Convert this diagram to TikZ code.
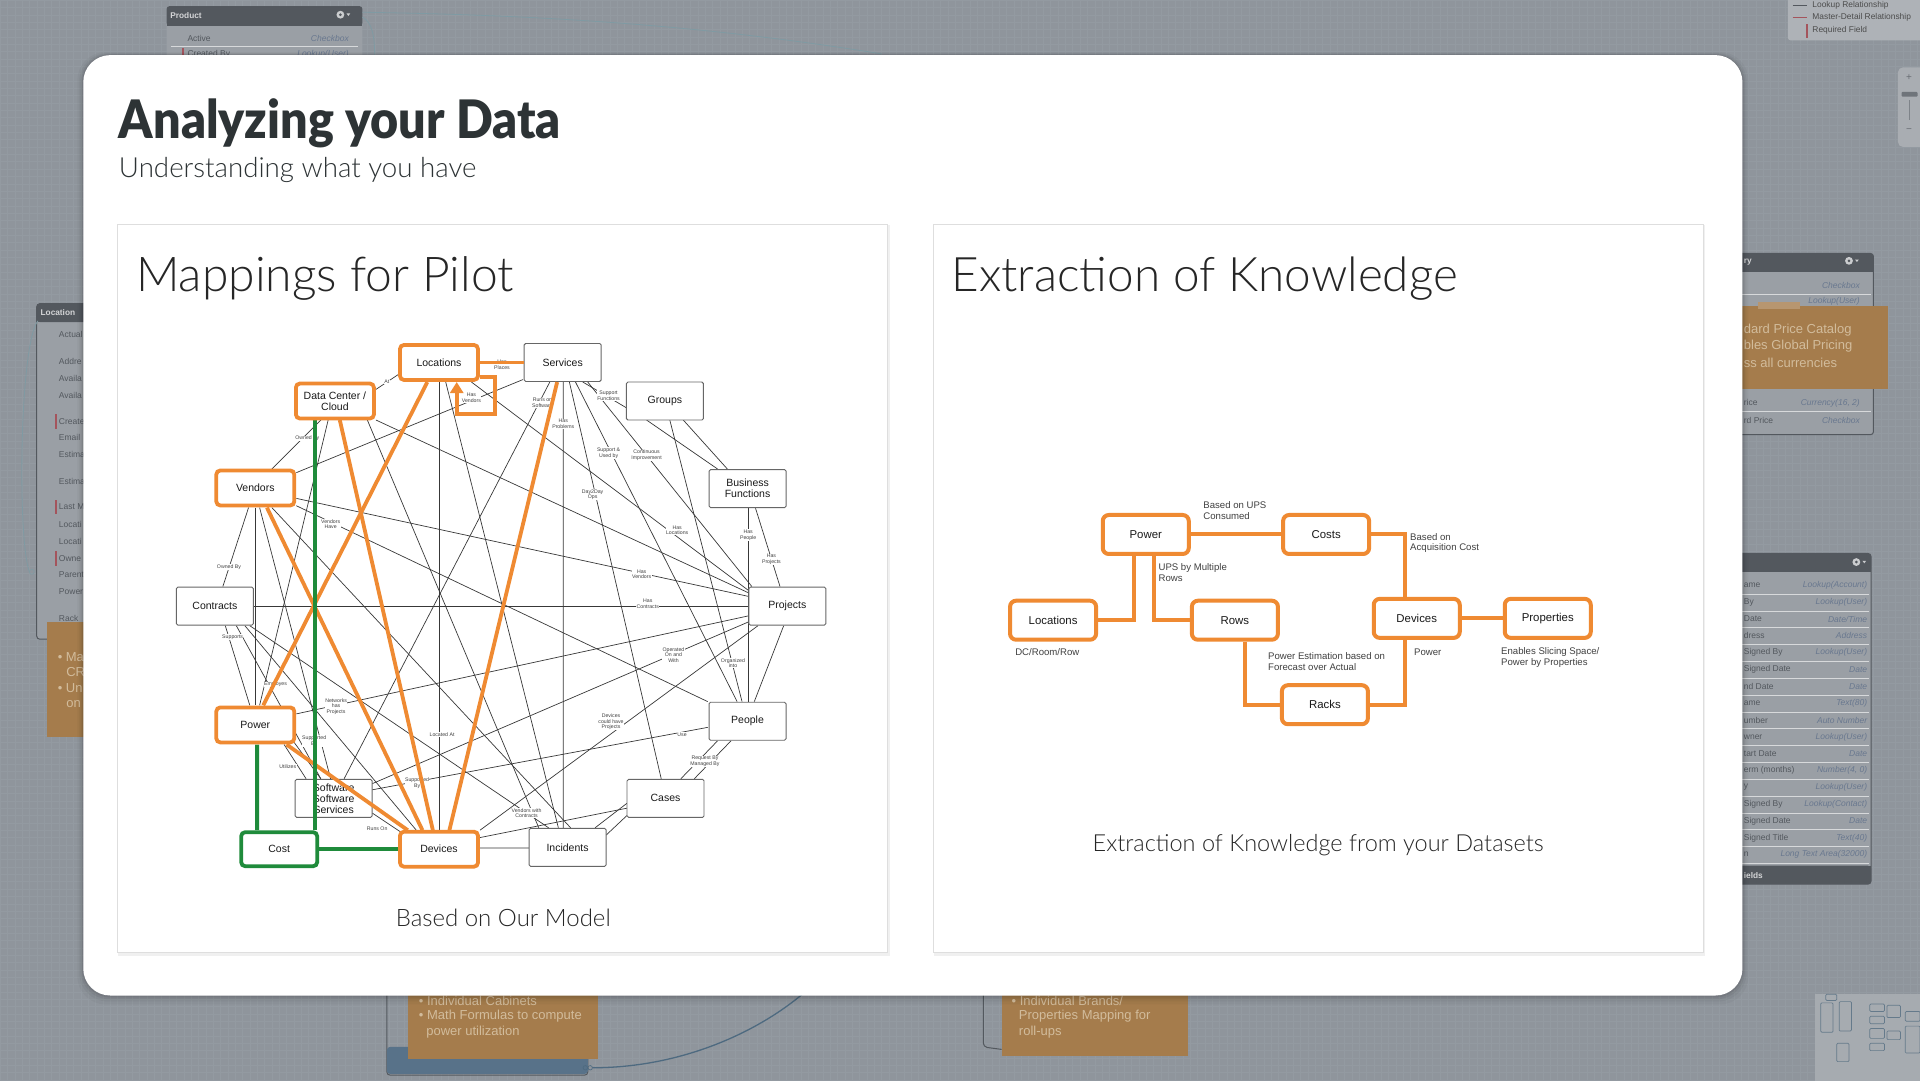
\documentclass[tikz,border=0pt]{standalone}
\usepackage{fontspec}
\setmainfont{Liberation Sans}
\newfontfamily\latoB{Lato Black}
\newfontfamily\latoL{Lato Light}
\usetikzlibrary{calc,arrows.meta}
\definecolor{bgc}{HTML}{8F959C}
\definecolor{gridc}{HTML}{939AA1}
\definecolor{hdrc}{HTML}{53585E}
\definecolor{bodyc}{HTML}{9A9FA5}
\definecolor{rowtxt}{HTML}{53585E}
\definecolor{typtxt}{HTML}{69788F}
\definecolor{notec}{HTML}{A57C4C}
\definecolor{notetxt}{HTML}{D2BC9C}
\definecolor{linkc}{HTML}{7F9AA3}
\definecolor{curvec}{HTML}{4E6A80}
\definecolor{blueb}{HTML}{587289}
\definecolor{orC}{HTML}{EF8A32}
\definecolor{grC}{HTML}{1F8B3B}
\definecolor{ttl}{HTML}{2D3335}
\definecolor{redm}{HTML}{A4545C}
\pgfdeclarelayer{back}
\pgfdeclarelayer{thinL}
\pgfdeclarelayer{labL}
\pgfdeclarelayer{wL}
\pgfdeclarelayer{thickL}
\pgfsetlayers{back,thinL,labL,wL,thickL,main}
\newcommand\thinln[4]{\draw[thinE] ($(#1)+(#2)$) -- ($(#3)+(#4)$);}
\newcommand\gearat[2]{\fill[white!70!hdrc] (#1,#2) circle (3.2); \fill[hdrc] (#1,#2) circle (1.2); \fill[white!70!hdrc] ({#1+5},{#2-1}) -- ({#1+8},{#2-1}) -- ({#1+6.5},{#2+1}) -- cycle;}
\begin{document}
\begin{tikzpicture}[x=1.2245pt,y=-1.2245pt,
 wbox/.style={draw=black!60, line width=0.9pt, fill=white, rounded corners=1.5pt, minimum width=77pt, minimum height=38pt, inner sep=0pt, align=center, font=\fontsize{10.5}{11}\selectfont, text=black!90},
 obox/.style={wbox, draw=orC, line width=3.8pt, rounded corners=4pt, minimum width=78pt, minimum height=35pt},
 gbox/.style={obox, draw=grC, minimum width=76pt, minimum height=34pt},
 rbox/.style={draw=orC, line width=4pt, fill=white, rounded corners=6pt, minimum width=86pt, minimum height=39pt, inner sep=0pt, font=\fontsize{11.4}{13}\selectfont, text=black!90},
 lbl/.style={fill=white, inner sep=0.4pt, align=center, font=\fontsize{5.2}{5.8}\selectfont, text=black!75},
 rlbl/.style={anchor=west, inner sep=0pt, align=left, font=\fontsize{9.6}{10.7}\selectfont, text=black!75},
 thinE/.style={draw=black!78, line width=0.7pt},
 oE/.style={draw=orC, line width=3.8pt},
 gE/.style={draw=grC, line width=3.8pt},
 rE/.style={draw=orC, line width=4pt},
 hdrtxt/.style={anchor=west, inner sep=0pt, font=\bfseries\fontsize{8.3}{9}\selectfont, text=white!75!hdrc},
 rowL/.style={anchor=west, inner sep=0pt, font=\fontsize{8.5}{10}\selectfont, text=rowtxt},
 rowR/.style={anchor=east, inner sep=0pt, font=\itshape\fontsize{8.5}{10}\selectfont, text=typtxt},
 notetx/.style={anchor=west, inner sep=0pt, font=\fontsize{13}{15}\selectfont, text=notetxt},
 legtxt/.style={anchor=west, inner sep=0pt, font=\fontsize{8.4}{10}\selectfont, text=black!70},
 sepc/.style={draw=white!60!bodyc, line width=0.4pt}
]
\useasboundingbox (0,0) rectangle (1568,882);
\begin{pgfonlayer}{back}
% ---------- background ----------
\fill[bgc] (0,0) rectangle (1568,882);
\foreach \gx in {0,6,...,1568} \draw[gridc, line width=0.35pt] (\gx,0) -- (\gx,882);
\foreach \gy in {0,6,...,882} \draw[gridc, line width=0.35pt] (0,\gy) -- (1568,\gy);
% Product object
\fill[bodyc, rounded corners=3pt] (136,5) rectangle (296,70);
\fill[hdrc, rounded corners=3pt] (136,5) rectangle (296,21);
\fill[hdrc] (136,15) rectangle (296,21);
\node[hdrtxt] (pT) at (139,13) {Product};
\gearat{278}{12}
\node[rowL] (pa) at (153,31) {Active};
\node[rowR] (pb) at (285,31) {Checkbox};
\draw[sepc] (140,38) -- (292,38);
\node[rowL] (pc) at (153,44) {Created By};
\node[rowR] (pd) at (285,44) {Lookup(User)};
\fill[redm] (149,39) rectangle (150.2,50);
\draw[linkc, line width=0.8pt] (296,10) .. controls (420,12) and (560,18) .. (720,44);
\draw[linkc, line width=0.8pt] (296,14) .. controls (304,18) and (306,30) .. (306,46);
% legend
\fill[bodyc!80!white, rounded corners=3pt] (1460,-6) rectangle (1575,33);
\node[legtxt] (lg1) at (1480,4) {Lookup Relationship};
\node[legtxt] (lg2) at (1480,14) {Master-Detail Relationship};
\node[legtxt] (lg3) at (1480,25) {Required Field};
\draw[hdrc, line width=0.6pt] (1464,4) -- (1476,4);
\draw[redm, line width=0.6pt] (1464,14) -- (1476,14);
\fill[redm] (1475,20) rectangle (1476.2,31);
% zoom control
\fill[bodyc!85!white, rounded corners=5pt] (1550,55) rectangle (1572,120);
\node[inner sep=0pt, font=\fontsize{10}{10}\selectfont, text=hdrc!70!bodyc] (zp) at (1559,63) {+};
\node[inner sep=0pt, font=\fontsize{10}{10}\selectfont, text=hdrc!70!bodyc] (zm) at (1559,107) {−};
\fill[hdrc!60!bodyc, rounded corners=1pt] (1553,75) rectangle (1566,79);
\draw[hdrc!40!bodyc, line width=0.6pt] (1559,82) -- (1559,98);
% right object 1
\fill[bodyc, rounded corners=3pt] (1390,207) rectangle (1530,355);
\fill[hdrc, rounded corners=3pt] (1390,207) rectangle (1530,222);
\fill[hdrc] (1390,216) rectangle (1530,222);
\draw[hdrc, line width=1pt, rounded corners=3pt] (1390,207) rectangle (1530,355);
\node[hdrtxt] (o1t) at (1424,214) {ry};
\gearat{1510}{213}
\node[rowR] (o1a) at (1519,233) {Checkbox};
\draw[sepc] (1392,240) -- (1528,240);
\node[rowR] (o1b) at (1519,246) {Lookup(User)};
\fill[notec] (1400,250) rectangle (1542,318);
\fill[notec!80!white] (1436,247) rectangle (1470,252);
\node[notetx] (o1n1) at (1424,270) {dard Price Catalog};
\node[notetx] (o1n2) at (1424,283) {bles Global Pricing};
\node[notetx] (o1n3) at (1424,296) {ss all currencies};
\node[rowL] (o1c) at (1424,329) {rice};
\node[rowR] (o1d) at (1519,329) {Currency(16, 2)};
\draw[sepc] (1392,336) -- (1528,336);
\node[rowL] (o1e) at (1424,343) {rd Price};
\node[rowR] (o1f) at (1519,343) {Checkbox};
% right object 2
\fill[bodyc, rounded corners=3pt] (1390,452) rectangle (1528,722);
\fill[hdrc, rounded corners=3pt] (1390,452) rectangle (1528,467);
\fill[hdrc] (1390,460) rectangle (1528,467);
\fill[hdrc, rounded corners=3pt] (1390,707) rectangle (1528,722);
\fill[hdrc] (1390,707) rectangle (1528,713);
\draw[hdrc, line width=1pt, rounded corners=3pt] (1390,452) rectangle (1528,722);
\gearat{1516}{459}
\foreach \ri/\rna/\rnb in {0/ame/Lookup(Account),1/By/Lookup(User),2/Date/{Date/Time},3/dress/Address,4/{ Signed By}/Lookup(User),5/{ Signed Date}/Date,6/nd Date/Date,7/ame/Text(80),8/umber/Auto Number,9/wner/Lookup(User),10/tart Date/Date,11/erm (months)/{Number(4, 0)},12/y/Lookup(User),13/{ Signed By}/Lookup(Contact),14/{ Signed Date}/Date,15/{ Signed Title}/Text(40),16/n/Long Text Area(32000)}{
 \node[rowL] (o2a\ri) at (1424,{478+13.75*\ri}) {\rna};
 \node[rowR] (o2b\ri) at (1525,{478+13.75*\ri}) {\rnb};
 \draw[sepc] (1392,{485+13.75*\ri}) -- (1526,{485+13.75*\ri});
}
\node[hdrtxt] (o2f) at (1424,715) {ields};
% minimap
\fill[bodyc!88!white] (1482,812) rectangle (1572,886);
\foreach \ax/\ay/\bx/\by in {1487/819/1497/843,1502/818/1512/842,1500/852/1510/867,1491/812/1500/817,1527/820/1539/826,1541/821/1552/831,1527/830/1539/836,1527/840/1539/848,1527/852/1539/858,1541/842/1552/849,1556/826/1568/834,1556/838/1568/860}
 \draw[curvec!70!bodyc, line width=0.7pt, rounded corners=1pt] (\ax,\ay) rectangle (\bx,\by);
% Location object
\fill[bodyc, rounded corners=3pt] (30,248) rectangle (100,522);
\fill[hdrc, rounded corners=3pt] (30,248) rectangle (100,263);
\fill[hdrc] (30,256) rectangle (100,263);
\draw[hdrc, line width=1pt, rounded corners=3pt] (30,248) rectangle (100,522);
\node[hdrtxt] (lt) at (33,255) {Location};
\foreach \yy/\rna [count=\k] in {273/Actual,295/Addre,309/Availa,323/Availa,344/Create,357/Email,371/Estima,393/Estima,414/Last M,428/Locati,442/Locati,456/Owne,469/Parent,483/Power,505/Rack}
 \node[rowL] (lr\k) at (48,\yy) {\rna};
\foreach \yy in {344,414,456} \fill[redm] (45.3,{\yy-6}) rectangle (46.5,{\yy+6});
\draw[linkc, line width=0.8pt] (31,262) .. controls (16,280) and (14,440) .. (24,467);
\draw[linkc, line width=0.6pt] (26,467) circle (2);
\fill[notec] (38,508) rectangle (100,602);
\node[notetx] (ln1) at (47,537) {• Ma};
\node[notetx] (ln2) at (54,549) {CR};
\node[notetx] (ln3) at (47,562) {• Un};
\node[notetx] (ln4) at (54,575) {on};
% bottom notes
\draw[hdrc, line width=1pt, rounded corners=3pt] (316,790) rectangle (480,878);
\fill[blueb, rounded corners=3pt] (316,855) rectangle (480,877);
\fill[notec] (333,790) rectangle (488,865);
\node[notetx] (bn1) at (342,817) {• Individual Cabinets};
\node[notetx] (bn2) at (342,830) {• Math Formulas to compute};
\node[notetx] (bn3) at (348,843) {power utilization};
\draw[curvec, line width=1.3pt] (484,872) .. controls (560,872) and (625,840) .. (662,806);
\draw[curvec, line width=0.7pt] (478,872) circle (1.8) (482,872) circle (1.8);
\draw[hdrc, line width=1pt, rounded corners=4pt] (803,800) -- (803,855) -- (818,857);
\fill[notec] (818,790) rectangle (970,862);
\node[notetx] (bn4) at (826,817) {• Individual Brands/};
\node[notetx] (bn5) at (832,830) {Properties Mapping for};
\node[notetx] (bn6) at (832,843) {roll-ups};
% ---------- card ----------
\foreach \d/\o in {12/0.03,8/0.04,5/0.05,2.5/0.07}
 \fill[black, opacity=\o, rounded corners=28pt] ({68-\d*0.4},{45-\d*0.2}) rectangle ({1423+\d*0.4},{813+\d*0.6});
\fill[white, rounded corners=27pt] (68,45) rectangle (1423,813);
\fill[black, opacity=0.06] (96.5,184) rectangle (726.5,780.5);
\filldraw[fill=white, draw=black!13, line width=0.8pt] (96,183) rectangle (725,778);
\fill[black, opacity=0.06] (762.5,184) rectangle (1392.5,780.5);
\filldraw[fill=white, draw=black!13, line width=0.8pt] (762,183) rectangle (1391,778);
\end{pgfonlayer}

% ---------- titles ----------
\node[anchor=base west, inner sep=0pt, font=\latoB\fontsize{53}{60}\selectfont, text=ttl] (title) at (97,113) {\scalebox{0.915}[1]{Analyzing your Data}};
\node[anchor=base west, inner sep=0pt, font=\latoL\fontsize{27.7}{32}\selectfont, text=ttl] (sub) at (97,145) {Understanding what you have};
\node[anchor=base west, inner sep=0pt, font=\latoL\fontsize{48}{54}\selectfont, text=black!85] (pt1) at (111,238) {Mappings for Pilot};
\node[anchor=base west, inner sep=0pt, font=\latoL\fontsize{47.6}{54}\selectfont, text=black!85] (pt2) at (777,238) {Extraction of Knowledge};
\node[anchor=base, inner sep=0pt, font=\latoL\fontsize{24}{28}\selectfont, text=black!85] (cap1) at (411,757) {Based on Our Model};
\node[anchor=base, inner sep=0pt, font=\latoL\fontsize{23.5}{28}\selectfont, text=black!85] (cap2) at (1076.5,695) {Extraction of Knowledge from your Datasets};

% ---------- left diagram nodes ----------
\begin{pgfonlayer}{wL}
\node[wbox] (Srv) at (459.5,296) {Services};
\node[wbox] (Grp) at (543,327.5) {Groups};
\node[wbox] (BF) at (610.5,399) {Business\\Functions};
\node[wbox] (Con) at (175.5,495) {Contracts};
\node[wbox] (Prj) at (643,495) {Projects};
\node[wbox] (Ppl) at (610.5,589) {People};
\node[wbox] (Sw) at (272.5,652) {Software\\Software\\Services};
\node[wbox] (Cas) at (543.5,652) {Cases};
\node[wbox] (Inc) at (463.5,692) {Incidents};
\end{pgfonlayer}
\node[obox] (Loc) at (358.5,296) {Locations};
\node[obox] (DC) at (273.5,327.5) {Data Center /\\Cloud};
\node[obox] (Ven) at (208.5,398.5) {Vendors};
\node[obox] (Pow) at (208.5,592) {Power};
\node[gbox] (Cost) at (228,693.5) {Cost};
\node[obox] (Dev) at (358.5,693.5) {Devices};

% ---------- thin connectors ----------
\begin{pgfonlayer}{thinL}
\thinln{DC}{33.5,-9.5}{Loc}{-33.5,10}
\thinln{DC}{-11.5,15.5}{Ven}{13.5,-15.5}
\thinln{Ven}{33.5,-12.5}{Srv}{-32.5,14}
\thinln{Ven}{33.5,8.5}{Prj}{-32,-8}
\thinln{Ven}{33.5,14.5}{Ppl}{-32.5,-16}
\thinln{Ven}{-5.5,16}{Con}{6.5,-16}
\thinln{Ven}{0,16}{Pow}{0,-16}
\thinln{Ven}{3.5,16}{Sw}{-2.5,-16}
\thinln{Ven}{13.5,16}{Inc}{2.5,-16}
\thinln{Srv}{-10.5,16}{Sw}{8.5,-16}
\thinln{Srv}{0.5,16}{Inc}{-3.5,-16}
\thinln{Srv}{5.5,16}{Cas}{-3.5,-16}
\thinln{Srv}{10.5,16}{Ppl}{-8.5,-16}
\thinln{Srv}{16.5,16}{Grp}{-31.5,5.5}
\thinln{Srv}{20.5,16}{Prj}{-29,-16}
\thinln{Grp}{-15,15.5}{BF}{-24.5,-16}
\thinln{Grp}{15,15.5}{BF}{-16.5,-16}
\thinln{Grp}{4,15.5}{Ppl}{-4.5,-16}
\thinln{BF}{0.5,16}{Ppl}{0.5,-16}
\thinln{BF}{6.5,16}{Prj}{-6,-16}
\thinln{Loc}{26.5,16}{Prj}{-32,-13}
\thinln{DC}{33.5,15.5}{Prj}{-32,-11}
\thinln{Con}{31.5,0}{Prj}{-32,0}
\thinln{Pow}{33.5,-9}{Prj}{-32,8}
\thinln{Sw}{31.5,-12}{Prj}{-32,13}
\thinln{Dev}{33.5,-15.5}{Prj}{-24,16}
\thinln{Sw}{31.5,-7}{Ppl}{-32.5,5}
\thinln{Ppl}{-24.5,16}{Cas}{12.5,-16}
\thinln{Ppl}{-13.5,16}{Cas}{23.5,-16}
\thinln{Prj}{-3,16}{Ppl}{5.5,-16}
\thinln{Cas}{-31.5,4}{Inc}{22.5,-16}
\thinln{Cas}{-31.5,14}{Inc}{31.5,-10}
\thinln{Dev}{33.5,-9.5}{Cas}{-31.5,8}
\thinln{Dev}{33.5,-1}{Inc}{-31.5,0.6}
\thinln{Loc}{0,16}{Dev}{0,-15.5}
\thinln{Loc}{5.5,16}{Inc}{-7.5,-16}
\thinln{Con}{28.5,16}{Inc}{-15.5,-16}
\thinln{Con}{8.5,16}{Pow}{-4.5,-16}
\thinln{Con}{17.5,16}{Sw}{-10.5,-16}
\thinln{Con}{24.5,16}{Dev}{-18.5,-15.5}
\thinln{DC}{-5.5,15.5}{Pow}{3.5,-16}
\thinln{Pow}{31.5,14}{Sw}{-10.5,-16}
\thinln{Pow}{23.5,16}{Sw}{-22.5,-16}
\thinln{Sw}{31.5,12}{Dev}{-30.5,-13.5}
\thinln{DC}{26.5,15.5}{Inc}{-23.5,-16}
\end{pgfonlayer}

% ---------- labels ----------
\begin{pgfonlayer}{labL}
\node[lbl] (la1) at (316,312) {At};
\node[lbl] (la2) at (410,298) {Has\\Places};
\node[lbl] (la3) at (385,325) {Has\\Vendors};
\node[lbl] (la4) at (251,358) {Owned By};
\node[lbl] (la5) at (443,329) {Runs on\\Software};
\node[lbl] (la6) at (460,346) {Has\\Problems};
\node[lbl] (la7) at (497,323) {Support\\Functions};
\node[lbl] (la8) at (497,370) {Support \&\\Used by};
\node[lbl] (la9) at (528,372) {Continuous\\Improvement};
\node[lbl] (la10) at (484,404) {Day2Day\\Ops};
\node[lbl] (la11) at (553,433) {Has\\Locations};
\node[lbl] (la12) at (611,437) {Has\\People};
\node[lbl] (la13) at (630,457) {Has\\Projects};
\node[lbl] (la14) at (524,469) {Has\\Vendors};
\node[lbl] (la15) at (529,493) {Has\\Contracts};
\node[lbl] (la16) at (550,535) {Operated\\On and\\With};
\node[lbl] (la17) at (598.6,541.5) {Organized\\into};
\node[lbl] (la18) at (499,589.5) {Devices\\could have\\Projects};
\node[lbl] (la19) at (557,600) {Use};
\node[lbl] (la20) at (575.7,622) {Request By\\Managed By};
\node[lbl] (la21) at (430,664) {Vendors with\\Contracts};
\node[lbl] (la22) at (308,677) {Runs On};
\node[lbl] (la23) at (340.6,639.5) {Supported\\By};
\node[lbl] (la24) at (361,600) {Located At};
\node[lbl] (la25) at (256.6,605) {Supported\\By};
\node[lbl] (la26) at (235,626) {Utilizes};
\node[lbl] (la27) at (274.5,577) {Networks\\has\\Projects};
\node[lbl] (la28) at (225,559) {Employes};
\node[lbl] (la29) at (190,520) {Supports};
\node[lbl] (la30) at (187,463) {Owned By};
\node[lbl] (la31) at (270,428) {Vendors\\Have};
\end{pgfonlayer}

% ---------- thick connectors ----------
\begin{pgfonlayer}{thickL}
\draw[oE] ($(Loc)+(-9.5,16)$) -- ($(Pow)+(6.5,-16)$);
\draw[oE] ($(DC)+(4,15.5)$) -- ($(Dev)+(-5,-15.5)$);
\draw[oE] ($(Ven)+(9.5,16)$) -- ($(Dev)+(-13.5,-15.5)$);
\draw[oE] ($(Pow)+(25.5,16)$) -- ($(Dev)+(-25.5,-15.5)$);
\draw[oE] ($(Srv)+(-4.5,16)$) -- ($(Dev)+(8.5,-15.5)$);
\draw[oE] (Loc.east) -- (Srv.west);
\coordinate (loopc) at (404,338);
\draw[oE, -{Triangle[width=13pt,length=11pt]}] ($(Loc)+(33.5,12)$) -| (loopc) -| ($(Loc)+(14.5,16)$);
\draw[gE] ($(Pow)+(1.5,16)$) -- ($(Cost)+(-18,-15.5)$);
\draw[gE] ($(DC)+(-16.5,15.5)$) -- ($(Cost)+(29,-15.5)$);
\draw[gE] (Cost.east) -- (Dev.west);
\end{pgfonlayer}

% ---------- right diagram ----------
\node[rbox] (RPow) at (935.7,436.5) {Power};
\node[rbox] (RLoc) at (860,506.5) {Locations};
\node[rbox] (RRows) at (1008.5,506.5) {Rows};
\node[rbox] (RCost) at (1083,436.5) {Costs};
\node[rbox] (RDev) at (1157,505) {Devices};
\node[rbox] (RProp) at (1264,505) {Properties};
\node[rbox] (RRack) at (1082,575.5) {Racks};
\coordinate (cx1) at (1147.5,0);
\coordinate (cx2) at (926,0);
\coordinate (cx3) at (942.6,0);
\coordinate (cx4) at (1017,0);
\begin{pgfonlayer}{thickL}
\draw[rE] (RPow.east) -- (RCost.west);
\draw[rE] (RCost.east) -| (cx1 |- RDev.north);
\draw[rE] (cx2 |- RPow.south) |- (RLoc.east);
\draw[rE] (cx3 |- RPow.south) |- (RRows.west);
\draw[rE] (cx4 |- RRows.south) |- (RRack.west);
\draw[rE] (cx1 |- RDev.south) |- (RRack.east);
\draw[rE] (RDev.east) -- (RProp.west);
\end{pgfonlayer}
\node[rlbl] (rl1) at (982.6,416.8) {Based on UPS\\Consumed};
\node[rlbl] (rl2) at (946,467.5) {UPS by Multiple\\Rows};
\node[rlbl] (rl3) at (829,532.5) {DC/Room/Row};
\node[rlbl] (rl4) at (1035.5,540.5) {Power Estimation based on\\Forecast over Actual};
\node[rlbl] (rl5) at (1151.5,443.5) {Based on\\Acquisition Cost};
\node[rlbl] (rl6) at (1154.7,532.5) {Power};
\node[rlbl] (rl7) at (1225.8,537) {Enables Slicing Space/\\Power by Properties};
\end{tikzpicture}
\end{document}
